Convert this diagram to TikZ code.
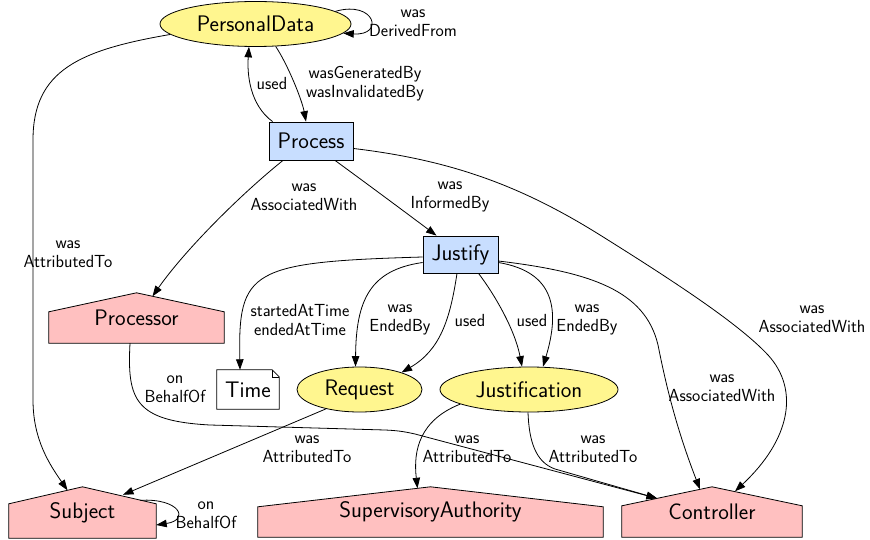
\documentclass[tikz,border=0pt]{standalone}
\usetikzlibrary{shapes.geometric,arrows.meta,calc,backgrounds}
\definecolor{yellowc}{RGB}{255,246,143}
\definecolor{bluec}{RGB}{200,222,255}
\definecolor{pinkc}{RGB}{255,192,192}
\tikzset{
  nodefont/.style={font=\sffamily\fontsize{22.5}{26}\selectfont},
  entity/.style={nodefont, ellipse, draw, line width=0.8pt, fill=yellowc, inner sep=0pt},
  activity/.style={nodefont, rectangle, draw, line width=0.8pt, fill=bluec, inner sep=0pt},
  agentbox/.style={nodefont, rectangle, draw=none, inner sep=0pt},
  houseshape/.style={draw, line width=0.8pt, fill=pinkc, line join=miter},
  noteshape/.style={draw, line width=0.8pt, fill=white},
  conn/.style={draw, line width=0.8pt, -{Triangle[length=10.5pt,width=7.5pt]}},
  lbl/.style={font=\sffamily\fontsize{17.5}{19}\selectfont, align=center, inner sep=0pt}
}
\begin{document}
\begin{tikzpicture}[x=1pt,y=-1pt]
\useasboundingbox (0,0) rectangle (870,540);

% nodes
\node[entity, minimum width=191pt, minimum height=45pt] (pd) at (255.5,24) {PersonalData};
\node[activity, minimum width=84pt, minimum height=38pt] (proc) at (311,141) {Process};
\node[activity, minimum width=75pt, minimum height=37pt] (just) at (460.5,254.5) {Justify};
\node[agentbox, minimum width=175pt, minimum height=50pt] (prc) at (136.5,318) {Processor};
\node[agentbox, minimum width=62pt, minimum height=39pt] (tm) at (248,389.5) {Time};
\node[entity, minimum width=125pt, minimum height=45pt] (req) at (359.5,389.5) {Request};
\node[entity, minimum width=178pt, minimum height=45pt] (jst) at (529,389.5) {Justification};
\node[agentbox, minimum width=147pt, minimum height=51pt] (sub) at (82.5,512.5) {Subject};
\node[agentbox, minimum width=345pt, minimum height=50pt] (sa) at (430.5,512) {SupervisoryAuthority};
\node[agentbox, minimum width=180pt, minimum height=50pt] (ctl) at (712,512) {Controller};

\begin{pgfonlayer}{background}
  \foreach \n/\d in {prc/19, sub/17, sa/20, ctl/19}
    \draw[houseshape] (\n.south west) -- (\n.south east) -- ($(\n.north east)+(0,\d)$)
      -- (\n.north) -- ($(\n.north west)+(0,\d)$) -- cycle;
  \draw[noteshape] (tm.south west) -- (tm.south east) -- ($(tm.north east)+(0,7)$)
    -- ($(tm.north east)+(-7,0)$) -- (tm.north west) -- cycle;
  \draw[line width=0.6pt] ($(tm.north east)+(-7,0)$) -- ($(tm.north east)+(-7,7)$) -- ($(tm.north east)+(0,7)$);
\end{pgfonlayer}

% connectors
\draw[conn] (pd.9) .. controls (375,0) and (385,36) .. (pd.-6);
\draw[conn] ([xshift=4pt]proc.north west) .. controls (250,105) and (247,75) .. (pd.-106);
\draw[conn] (pd.-48) .. controls (288,65) and (302,100) .. ([xshift=-5pt]proc.north);
\draw[conn] ([xshift=-28pt]proc.south) .. controls (240,195) and (185,250) .. ($(prc.north)+(16,3.5)$);
\draw[conn] ([xshift=24pt]proc.south) .. controls (370,186) and (405,212) .. ([xshift=-24pt]just.north);
\draw[conn] (proc.-10) .. controls (450,160) and (520,185) .. (600,235)
  .. controls (680,285) and (740,325) .. (768,355)
  .. controls (800,390) and (790,440) .. ($(ctl.north)+(23,4.5)$);
\draw[conn] (pd.-173) .. controls (80,50) and (33,70) .. (33,140) -- (33,400)
  .. controls (33,440) and (50,465) .. ($(sub.north)+(-15,3.5)$);
\draw[conn] ([yshift=-2.5pt]just.west) .. controls (250,262) and (238,270) .. ([xshift=-8pt]tm.north);
\draw[conn] ([yshift=-8pt]just.west) .. controls (370,270) and (356,300) .. ([xshift=-4pt]req.north);
\draw[conn] ([xshift=-3.5pt]just.south) .. controls (450,320) and (440,350) .. (req.22);
\draw[conn] ([xshift=18pt]just.south) .. controls (495,295) and (515,330) .. ([xshift=-7pt]jst.north);
\draw[conn] ([yshift=-8pt]just.east) .. controls (555,272) and (560,310) .. ([xshift=14pt]jst.north);
\draw[conn] ([yshift=-6.5pt]just.east) .. controls (590,272) and (645,290) .. (658,345)
  .. controls (665,380) and (675,425) .. ($(ctl.north)+(-12,2.5)$);
\draw[conn] ([xshift=-6.5pt]prc.south) .. controls (127,400) and (135,421) .. (210,425) -- (385,430)
  .. controls (395,430.5) and (402,431) .. (415,434) -- ($(ctl.north)+(-55,11.5)$);
\draw[conn] (req.-150) -- ($(sub.north)+(40.5,8)$);
\draw[conn] (jst.-168) .. controls (420,420) and (413,450) .. ($(sa.north)+(-13,1.5)$);
\draw[conn] ([xshift=-1pt]jst.south) .. controls (529,440) and (535,462) .. (555,469) -- ($(ctl.north)+(-55,11.5)$);
\draw[conn] ($(sub.north)+(57.5,13.5)$) .. controls (180,498) and (190,520) .. ($(sub.east)+(0,12.5)$);

% labels
\node[lbl] (l1) at (413,23) {was\\DerivedFrom};
\node[lbl] (l2) at (272,83) {used};
\node[lbl] (l3) at (365,83.5) {wasGeneratedBy\\wasInvalidatedBy};
\node[lbl] (l4) at (304,197) {was\\AssociatedWith};
\node[lbl] (l5) at (450,197) {was\\InformedBy};
\node[lbl] (l6) at (812,319) {was\\AssociatedWith};
\node[lbl] (l7) at (68,254) {was\\AttributedTo};
\node[lbl] (l8) at (300,319.5) {startedAtTime\\endedAtTime};
\node[lbl] (l9) at (400,319.5) {was\\EndedBy};
\node[lbl] (l10) at (470,320) {used};
\node[lbl] (l11) at (532,320) {used};
\node[lbl] (l12) at (587,319.5) {was\\EndedBy};
\node[lbl] (l13) at (722,388) {was\\AssociatedWith};
\node[lbl] (l14) at (175,389) {on\\BehalfOf};
\node[lbl] (l15) at (307,449) {was\\AttributedTo};
\node[lbl] (l16) at (467,449) {was\\AttributedTo};
\node[lbl] (l17) at (593,449) {was\\AttributedTo};
\node[lbl] (l18) at (206,515) {on\\BehalfOf};
\end{tikzpicture}
\end{document}
